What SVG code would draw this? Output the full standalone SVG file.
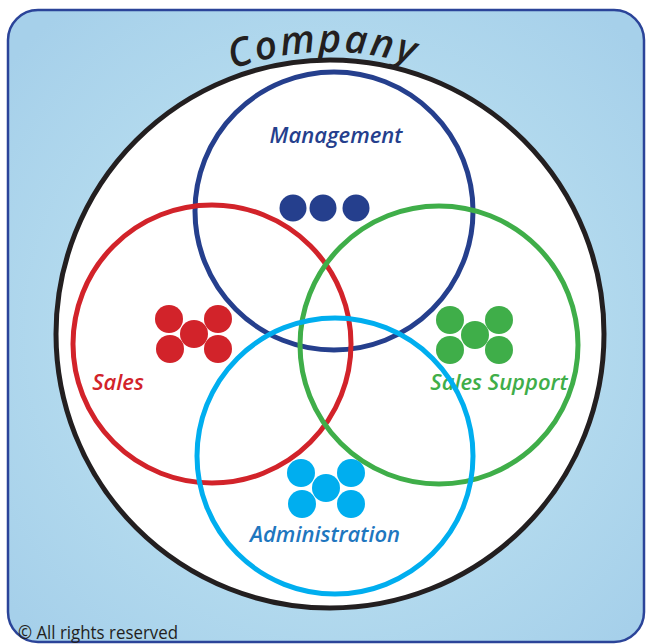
<svg xmlns="http://www.w3.org/2000/svg" width="648" height="644" viewBox="0 0 648 644">
  <defs>
    <radialGradient id="bg" cx="330" cy="334" r="420" gradientUnits="userSpaceOnUse">
      <stop offset="0" stop-color="#bfe1f1"/>
      <stop offset="0.6" stop-color="#b3daee"/>
      <stop offset="1" stop-color="#a6d0ea"/>
    </radialGradient>
    <path id="arc" d="M 48 334 A 282 282 0 0 1 612 334"/>
  </defs>
  <style>
    .ring { fill: none; stroke-width: 5; }
    .lbl { font-family: "Open Sans", "Liberation Sans", sans-serif; font-style: italic; font-weight: 600; font-size: 22px; text-anchor: middle; }
    .navy { fill: #253f8d; }
    .red { fill: #d2232a; }
    .green { fill: #3fae49; }
    .cyan { fill: #00aeef; }
  </style>

  <g id="background">
    <rect x="8" y="10" width="636" height="632" rx="30" ry="30" fill="url(#bg)" stroke="#2b4499" stroke-width="2.5"/>
  </g>

  <g id="company">
    <circle cx="330" cy="334" r="274" fill="#ffffff" stroke="#231f20" stroke-width="5"/>
    <text font-family="Open Sans, Liberation Sans, sans-serif" font-size="39" font-style="italic" font-weight="600" fill="#231f20" letter-spacing="2.5" text-anchor="middle">
      <textPath href="#arc" startOffset="436">Company</textPath>
    </text>
  </g>

  <g id="connectors"></g>

  <g id="management">
    <circle class="ring" cx="334" cy="211" r="139" stroke="#253f8d"/>
    <circle class="navy" cx="293" cy="208" r="13.5"/>
    <circle class="navy" cx="323" cy="208" r="13.5"/>
    <circle class="navy" cx="356" cy="208" r="13.5"/>
    <text class="lbl navy" x="336" y="143">Management</text>
  </g>

  <g id="sales">
    <circle class="ring" cx="212" cy="344" r="139" stroke="#d2232a"/>
    <circle class="red" cx="169" cy="319" r="14"/>
    <circle class="red" cx="218" cy="319" r="14"/>
    <circle class="red" cx="194" cy="334" r="14"/>
    <circle class="red" cx="170" cy="349" r="14"/>
    <circle class="red" cx="218" cy="349" r="14"/>
    <text class="lbl red" x="118" y="390">Sales</text>
  </g>

  <g id="sales-support">
    <circle class="ring" cx="439" cy="345" r="139" stroke="#3fae49"/>
    <circle class="green" cx="450" cy="320" r="14"/>
    <circle class="green" cx="499" cy="320" r="14"/>
    <circle class="green" cx="475" cy="335" r="14"/>
    <circle class="green" cx="450" cy="350" r="14"/>
    <circle class="green" cx="499" cy="350" r="14"/>
    <text class="lbl green" x="499" y="390">Sales Support</text>
  </g>

  <g id="administration">
    <circle class="ring" cx="335" cy="456" r="138" stroke="#00aeef"/>
    <circle class="cyan" cx="301" cy="473" r="14"/>
    <circle class="cyan" cx="351" cy="473" r="14"/>
    <circle class="cyan" cx="326" cy="488" r="14"/>
    <circle class="cyan" cx="302" cy="504" r="14"/>
    <circle class="cyan" cx="351" cy="504" r="14"/>
    <text class="lbl" fill="#1f77bf" x="325" y="542">Administration</text>
  </g>

  <g id="copyright">
    <text x="18" y="639" font-family="Open Sans, Liberation Sans, sans-serif" font-size="18" fill="#231f20" textLength="160" lengthAdjust="spacingAndGlyphs">© All rights reserved</text>
  </g>
</svg>
